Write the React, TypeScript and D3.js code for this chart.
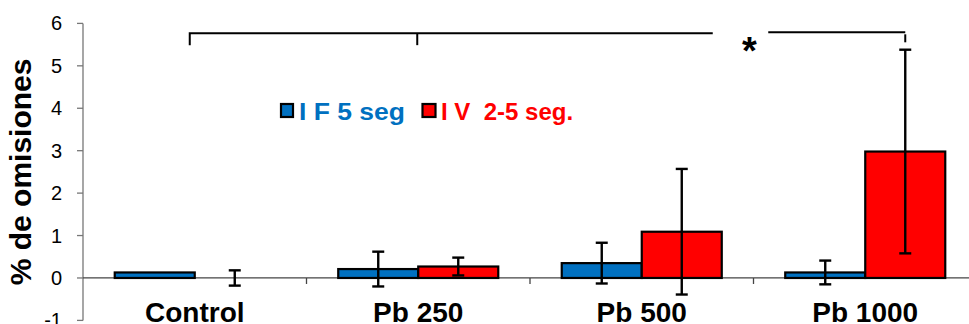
import React from "react";
import * as d3 from "d3";

const categories = ["Control", "Pb 250", "Pb 500", "Pb 1000"];
const seriesNames = ["I F 5 seg", "I V  2-5 seg."];
const ifValues = [0.13, 0.21, 0.35, 0.13];
const ifErrors = [0, 0.41, 0.48, 0.28];
const ivValues = [0, 0.27, 1.09, 2.98];
const ivErrors = [0.18, 0.21, 1.48, 2.4];
const yTicks = [-1, 0, 1, 2, 3, 4, 5, 6];

const W = 969;
const H = 324;
const FONT = "'Liberation Sans', Arial, sans-serif";
const BLUE = "#0070C0";
const RED = "#FF0000";

export default function App() {
  const x = d3
    .scaleBand<string>()
    .domain(categories)
    .range([83, 977])
    .paddingInner(0.284)
    .paddingOuter(0.142);
  const xSub = d3.scaleBand<string>().domain(["IF", "IV"]).range([0, x.bandwidth()]);
  const y = d3.scaleLinear().domain([-1, 6]).range([320.4, 23.4]);

  const step = x.step();
  const gap = step - x.bandwidth();
  const series = [
    { key: "IF", values: ifValues, errors: ifErrors, color: BLUE },
    { key: "IV", values: ivValues, errors: ivErrors, color: RED },
  ];

  const center = (c: string) => (x(c) ?? 0) + x.bandwidth() / 2;
  const barCenter = (c: string, k: string) => (x(c) ?? 0) + (xSub(k) ?? 0) + xSub.bandwidth() / 2;

  const brY = y(5.77);
  const brY2 = y(5.79);
  const left = center("Control") - 5;
  const mid = center("Pb 250") - 1;
  const line1End = center("Pb 500") + 71;
  const line2Start = center("Pb 1000") - 97;
  const rightTick = barCenter("Pb 1000", "IV");
  const starX = (line1End + line2Start) / 2 + 9;

  return (
    <svg
      width={W}
      height={H}
      style={{ position: "absolute", left: 0, top: 0, background: "#fff" }}
      fontFamily={FONT}
    >
      <rect x={0} y={0} width={W} height={H} fill="#fff" />
      {/* y axis */}
      <line x1={83} x2={83} y1={y(6)} y2={y(-1)} stroke="#777" strokeWidth={1.3} />
      {yTicks.map((t) => (
        <g key={t}>
          <line x1={77} x2={83} y1={y(t)} y2={y(t)} stroke="#777" strokeWidth={1.3} />
          <text x={62} y={y(t)} dy="0.35em" textAnchor="end" fontSize={20} fill="#000">
            {t}
          </text>
        </g>
      ))}
      <text
        transform={`translate(31, ${(y(6) + y(-1)) / 2}) rotate(-90)`}
        textAnchor="middle"
        fontSize={30}
        fontWeight="bold"
        fill="#000"
      >
        % de omisiones
      </text>
      {/* x axis */}
      <line x1={83} x2={W} y1={y(0)} y2={y(0)} stroke="#444" strokeWidth={1.3} />
      {categories.slice(1).map((c) => (
        <line
          key={c}
          x1={(x(c) ?? 0) - gap / 2}
          x2={(x(c) ?? 0) - gap / 2}
          y1={y(0)}
          y2={y(0) + 6}
          stroke="#444"
          strokeWidth={1.3}
        />
      ))}
      {categories.map((c) => (
        <text key={c} x={center(c)} y={322} textAnchor="middle" fontSize={28} fontWeight="bold" fill="#000">
          {c}
        </text>
      ))}
      {/* bars */}
      {series.map((s) =>
        categories.map((c, i) =>
          s.values[i] > 0 ? (
            <rect
              key={s.key + c}
              x={(x(c) ?? 0) + (xSub(s.key) ?? 0)}
              y={y(s.values[i])}
              width={xSub.bandwidth()}
              height={y(0) - y(s.values[i])}
              fill={s.color}
              stroke="#000"
              strokeWidth={2.2}
            />
          ) : null
        )
      )}
      {/* error bars */}
      {series.map((s) =>
        categories.map((c, i) => {
          if (s.errors[i] <= 0) return null;
          const cx = barCenter(c, s.key);
          const top = y(s.values[i] + s.errors[i]);
          const bot = y(s.values[i] - s.errors[i]);
          return (
            <g key={"e" + s.key + c} stroke="#000" strokeWidth={2.4}>
              <line x1={cx} x2={cx} y1={top} y2={bot} />
              <line x1={cx - 6} x2={cx + 6} y1={top} y2={top} />
              <line x1={cx - 6} x2={cx + 6} y1={bot} y2={bot} />
            </g>
          );
        })
      )}
      {/* significance bracket */}
      <g stroke="#000" strokeWidth={2} fill="none">
        <path d={`M${left},${brY + 12}V${brY}H${line1End}`} />
        <line x1={mid} x2={mid} y1={brY} y2={brY + 12} />
        <line x1={line2Start} x2={rightTick} y1={brY2} y2={brY2} />
        <line x1={rightTick} x2={rightTick} y1={brY2 + 2} y2={brY2 + 10} />
      </g>
      <text x={starX} y={64} textAnchor="middle" fontSize={38} fontWeight="bold" fill="#000">
        *
      </text>
      {/* legend */}
      <rect x={281} y={104} width={12} height={13} fill={BLUE} stroke="#000" strokeWidth={2.2} />
      <text
        x={299}
        y={119.5}
        fontSize={24}
        fontWeight="bold"
        fill={BLUE}
        textLength={106}
        lengthAdjust="spacingAndGlyphs"
        style={{ whiteSpace: "pre" }}
      >
        {seriesNames[0]}
      </text>
      <rect x={422.5} y={104} width={13} height={13} fill={RED} stroke="#000" strokeWidth={2.2} />
      <text x={441} y={119.5} fontSize={24} fontWeight="bold" fill={RED} style={{ whiteSpace: "pre" }}>
        {seriesNames[1]}
      </text>
    </svg>
  );
}
